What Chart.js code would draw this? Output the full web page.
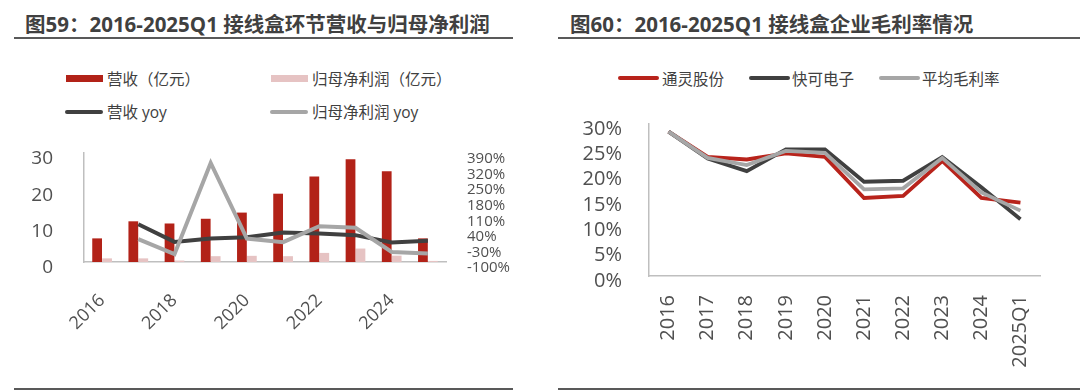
<!DOCTYPE html>
<html lang="zh">
<head>
<meta charset="utf-8">
<script src="https://cdn.jsdelivr.net/npm/chart.js@4"></script>
<style>
  body { margin: 0; width: 1080px; height: 391px; background: #fff; position: relative; overflow: hidden;
         font-family: 'Open Sans', 'Noto Sans CJK SC', sans-serif; color: #404040; }
  .title { position: absolute; top: 11px; font-family: 'Open Sans', 'Noto Sans CJK SC', sans-serif; font-weight: 700;
           font-size: 20.5px; line-height: 26px; color: #404040; white-space: nowrap; }
  .rule { position: absolute; height: 2px; background: #595959; }
  .lg-mark { position: absolute; }
  .lg-text { position: absolute; font-size: 15.5px; line-height: 20px; white-space: nowrap; color: #404040; }
  canvas { position: absolute; }
</style>
</head>
<body>
  <!-- 左：图59 -->
  <div class="title" style="left:25px">图59：2016-2025Q1 接线盒环节营收与归母净利润</div>
  <div class="rule" style="left:14px;width:499px;top:37px"></div>
  <div class="rule" style="left:14px;width:499px;top:388px"></div>

  <div class="lg-mark" style="left:66px;top:75px;width:37px;height:7px;background:#B22218"></div>
  <div class="lg-text" style="left:107px;top:69px">营收（亿元）</div>
  <div class="lg-mark" style="left:271px;top:75px;width:37px;height:7px;background:#E6C3C3"></div>
  <div class="lg-text" style="left:312px;top:69px">归母净利润（亿元）</div>
  <div class="lg-mark" style="left:65px;top:110px;width:38px;height:3.5px;background:#404040;border-radius:2px"></div>
  <div class="lg-text" style="left:107px;top:102px">营收 yoy</div>
  <div class="lg-mark" style="left:270px;top:110px;width:38px;height:3.5px;background:#A6A6A6;border-radius:2px"></div>
  <div class="lg-text" style="left:312px;top:102px">归母净利润 yoy</div>

  <canvas id="leftChart" width="540" height="200" style="left:0;top:140px"></canvas>

  <!-- 右：图60 -->
  <div class="title" style="left:570px">图60：2016-2025Q1 接线盒企业毛利率情况</div>
  <div class="rule" style="left:558px;width:522px;top:37px"></div>
  <div class="rule" style="left:558px;width:522px;top:388px"></div>

  <div class="lg-mark" style="left:618px;top:76px;width:41px;height:3.5px;background:#B8231B;border-radius:2px"></div>
  <div class="lg-text" style="left:662px;top:69px">通灵股份</div>
  <div class="lg-mark" style="left:749px;top:76px;width:41px;height:3.5px;background:#404040;border-radius:2px"></div>
  <div class="lg-text" style="left:792px;top:69px">快可电子</div>
  <div class="lg-mark" style="left:879px;top:76px;width:41px;height:3.5px;background:#A6A6A6;border-radius:2px"></div>
  <div class="lg-text" style="left:922px;top:69px">平均毛利率</div>

  <canvas id="rightChart" width="540" height="270" style="left:540px;top:110px"></canvas>

<script>
// ── データ ───────────────────────────────────────────
const years = ['2016', '2017', '2018', '2019', '2020', '2021', '2022', '2023', '2024', '2025Q1'];

// 图59（亿元 / %）
const revenue    = [6.5, 11.2, 10.6, 11.9, 13.6, 18.8, 23.5, 28.3, 25.0, 6.5];
const netProfit  = [1.0, 1.0, 0.4, 1.6, 1.7, 1.6, 2.5, 3.7, 1.75, 0.3];
const revenueYoy = [null, 70, -9.5, 5.6, 11.6, 32.7, 28, 20.7, -12.5, -5];
const profitYoy  = [null, 2.6, -65, 345, 5.6, -11, 61, 54, -55, -62];

// 图60 毛利率（%）
const tonglingGM = [28.5, 23.5, 23.0, 24.2, 23.5, 15.4, 15.8, 22.7, 15.4, 14.5];
const kuaikeGM   = [28.5, 23.2, 20.7, 25.0, 25.0, 18.6, 18.8, 23.5, 17.5, 11.2];
const avgGM      = [28.5, 23.3, 21.9, 24.7, 24.3, 17.1, 17.3, 23.3, 16.5, 12.9];

const TICK_COLOR = '#505050';
const AXIS_COLOR = '#BFBFBF';
const FONT = "'Open Sans', 'Noto Sans CJK SC', sans-serif";

// 縦軸の幅を固定し、ラベル分の上下余白は付けない
const fixWidth = w => s => { s.width = w; s.paddingTop = 0; s.paddingBottom = 0; };

// ── 图59 ─────────────────────────────────────────────
new Chart(document.getElementById('leftChart'), {
  type: 'bar',
  data: {
    labels: years,
    datasets: [
      { type: 'line', label: '归母净利润 yoy', data: profitYoy, yAxisID: 'y2', borderColor: '#A6A6A6',
        borderWidth: 4, pointRadius: 0, tension: 0, order: 1 },
      { type: 'line', label: '营收 yoy', data: revenueYoy, yAxisID: 'y2', borderColor: '#404040',
        borderWidth: 4, pointRadius: 0, tension: 0, order: 2 },
      { label: '营收（亿元）', data: revenue, yAxisID: 'y', backgroundColor: '#B22218',
        categoryPercentage: 0.55, barPercentage: 0.98, order: 3 },
      { label: '归母净利润（亿元）', data: netProfit, yAxisID: 'y', backgroundColor: '#E6C3C3',
        categoryPercentage: 0.55, barPercentage: 0.98, order: 4 },
    ]
  },
  options: {
    responsive: false,
    animation: false,
    devicePixelRatio: 1,
    layout: { padding: { top: 13, left: 0, right: 0, bottom: 0 } },
    plugins: { legend: { display: false }, tooltip: { enabled: false } },
    scales: {
      x: {
        grid: { display: false, drawTicks: false },
        border: { color: AXIS_COLOR, width: 1.5 },
        ticks: {
          autoSkip: false, minRotation: 45, maxRotation: 45, padding: 28,
          color: TICK_COLOR, font: { family: FONT, size: 18 },
          callback: (v, i) => i % 2 === 0 ? years[i] : ''
        },
        afterFit: s => { s.height = 78; }
      },
      y: {
        position: 'left', min: 0, max: 30,
        grid: { display: false, drawTicks: false },
        border: { color: AXIS_COLOR, width: 1.5 },
        ticks: { autoSkip: false, stepSize: 10, padding: 31, labelOffset: 6, color: TICK_COLOR,
                 font: { family: FONT, size: 19 } },
        afterFit: fixWidth(84)
      },
      y2: {
        position: 'right', min: -100, max: 390,
        grid: { display: false, drawTicks: false },
        border: { display: false },
        ticks: { autoSkip: false, stepSize: 70, padding: 21, labelOffset: 6, color: TICK_COLOR,
                 font: { family: FONT, size: 15 }, callback: v => v + '%' },
        afterFit: fixWidth(94)
      }
    }
  }
});

// ── 图60 ─────────────────────────────────────────────
new Chart(document.getElementById('rightChart'), {
  type: 'line',
  data: {
    labels: years,
    datasets: [
      { label: '平均毛利率', data: avgGM, borderColor: '#A6A6A6', order: 1 },
      { label: '快可电子', data: kuaikeGM, borderColor: '#404040', order: 2 },
      { label: '通灵股份', data: tonglingGM, borderColor: '#B8231B', order: 3 },
    ].map(d => Object.assign(d, { borderWidth: 3.8, pointRadius: 0, tension: 0, fill: false }))
  },
  options: {
    responsive: false,
    animation: false,
    devicePixelRatio: 1,
    layout: { padding: { top: 14, left: 0, right: 40, bottom: 0 } },
    plugins: { legend: { display: false }, tooltip: { enabled: false } },
    scales: {
      x: {
        offset: true,
        grid: { display: false, drawTicks: false },
        border: { color: AXIS_COLOR, width: 1.5 },
        ticks: { autoSkip: false, minRotation: 90, maxRotation: 90, padding: 19,
                 color: TICK_COLOR, font: { family: FONT, size: 20 } },
        afterFit: s => { s.height = 104; }
      },
      y: {
        min: 0, max: 30,
        grid: { display: false, drawTicks: false },
        border: { color: AXIS_COLOR, width: 1.5 },
        ticks: { autoSkip: false, stepSize: 5, padding: 27, labelOffset: 5, color: TICK_COLOR,
                 font: { family: FONT, size: 20 }, callback: v => v + '%' },
        afterFit: fixWidth(109)
      }
    }
  }
});
</script>
</body>
</html>
